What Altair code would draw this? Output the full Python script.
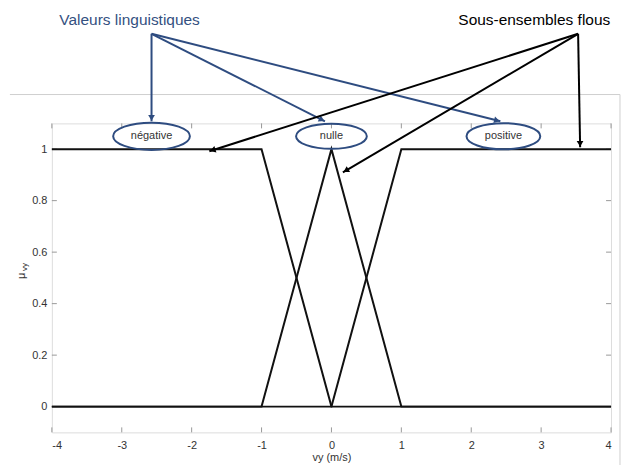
import math
import altair as alt
import pandas as pd

# ---- data ----
x_bp = [-4, -1, 0, 1, 4]
mu_neg = [1, 1, 0, 0, 0]
mu_nul = [0, 0, 1, 0, 0]
mu_pos = [0, 0, 0, 1, 1]
set_names = ["négative", "nulle", "positive"]
x_ticks = [-4, -3, -2, -1, 0, 1, 2, 3, 4]
y_ticks = [0, 0.2, 0.4, 0.6, 0.8, 1]

# ellipse labels (linguistic values)
ell_x = [-2.574, 0.0, 2.46]
ell_y = [1.05, 1.05, 1.05]
ell_w = [77, 71, 74]

# annotation groups
blue_label = "Valeurs linguistiques"
blue_label_pos = (-2.888, 1.483)
blue_src = (-2.574, 1.448)
blue_tx = [-2.574, -0.093, 2.417]
blue_ty = [1.108, 1.108, 1.108]

black_label = "Sous-ensembles flous"
black_label_pos = (2.902, 1.483)
black_src = (3.529, 1.448)
black_tx = [-1.747, 0.164, 3.558]
black_ty = [0.992, 0.910, 1.007]

W, H = 561, 310
XD = [-4, 4]
YD = [-0.1, 1.1]
PX = W / (XD[1] - XD[0])
PY = H / (YD[1] - YD[0])

BLUE = "#2E4C80"
BLUE_TXT = "#34507F"
FONT = "Liberation Sans"

xs = alt.Scale(domain=XD, nice=False, zero=False)
ys = alt.Scale(domain=YD, nice=False, zero=False)

rows = []
for name, mu in zip(set_names, [mu_neg, mu_nul, mu_pos]):
    for xv, mv in zip(x_bp, mu):
        rows.append({"set": name, "x": xv, "mu": mv})
df = pd.DataFrame(rows)

# tick marks (inside)
tick_rows = []
for t in x_ticks:
    tick_rows.append({"x": t, "y": YD[0], "x2": t, "y2": YD[0] + 5 / PY})
    tick_rows.append({"x": t, "y": YD[1], "x2": t, "y2": YD[1] - 5 / PY})
for t in y_ticks:
    tick_rows.append({"x": XD[0], "y": t, "x2": XD[0] + 5 / PX, "y2": t})
    tick_rows.append({"x": XD[1], "y": t, "x2": XD[1] - 5 / PX, "y2": t})
ticks_df = pd.DataFrame(tick_rows)

frame_df = pd.DataFrame([
    {"x": -4.6, "y": 1.212, "x2": 4.128, "y2": 1.212},
    {"x": 4.128, "y": 1.212, "x2": 4.128, "y2": -0.26},
])


def arrows(src, txs, tys):
    segs, heads = [], []
    for tx, ty in zip(txs, tys):
        segs.append({"x": src[0], "y": src[1], "x2": tx, "y2": ty})
        dx = (tx - src[0]) * PX
        dy = -(ty - src[1]) * PY
        L = math.hypot(dx, dy)
        ang = math.degrees(math.atan2(dx, -dy)) % 360
        hx = tx - 3.5 * dx / L / PX
        hy = ty + 3.5 * dy / L / PY
        heads.append({"x": hx, "y": hy, "angle": ang})
    return pd.DataFrame(segs), pd.DataFrame(heads)


bseg, bhead = arrows(blue_src, blue_tx, blue_ty)
kseg, khead = arrows(black_src, black_tx, black_ty)

base_x = alt.X("x:Q", scale=xs, axis=alt.Axis(
    values=x_ticks, title="vy (m/s)", labelExpr="'' + datum.value",
    grid=False, domain=False, ticks=False, tickSize=0, labelPadding=7,
    labelFontSize=11, labelColor="#333", labelFont=FONT, titleFont=FONT,
    titleFontSize=11, titleColor="#333", titleFontWeight="normal", titlePadding=1))
base_y = alt.Y("mu:Q", scale=ys, axis=alt.Axis(
    values=y_ticks, title=None, format="~g",
    grid=False, domain=False, ticks=False, tickSize=0, labelPadding=5,
    labelFontSize=11, labelColor="#333", labelFont=FONT))

lines = alt.Chart(df).mark_line(color="#111", strokeWidth=2).encode(
    x=base_x, y=base_y, detail="set:N")

tick_layer = alt.Chart(ticks_df).mark_rule(color="#999", strokeWidth=1).encode(
    x=alt.X("x:Q", scale=xs), y=alt.Y("y:Q", scale=ys), x2="x2:Q", y2="y2:Q")

frame = alt.Chart(frame_df).mark_rule(color="#cfcfcf", strokeWidth=1).encode(
    x=alt.X("x:Q", scale=xs), y=alt.Y("y:Q", scale=ys), x2="x2:Q", y2="y2:Q")

ell_df = pd.DataFrame({"x": ell_x, "y": ell_y, "size": [w * w for w in ell_w],
                       "label": set_names})
ell_path = "M -1 0 A 1 0.355 0 1 1 1 0 A 1 0.355 0 1 1 -1 0 Z"
ellipses = alt.Chart(ell_df).mark_point(
    shape=ell_path, filled=False, color=BLUE, strokeWidth=2, opacity=1).encode(
    x=alt.X("x:Q", scale=xs), y=alt.Y("y:Q", scale=ys),
    size=alt.Size("size:Q", scale=None, legend=None))
ell_text = alt.Chart(ell_df).mark_text(
    font=FONT, fontSize=11, color="#333", baseline="middle", align="center").encode(
    x=alt.X("x:Q", scale=xs), y=alt.Y("y:Q", scale=ys), text="label:N")


def arrow_layers(seg, head, color, width):
    s = alt.Chart(seg).mark_rule(color=color, strokeWidth=width).encode(
        x=alt.X("x:Q", scale=xs), y=alt.Y("y:Q", scale=ys), x2="x2:Q", y2="y2:Q")
    h = alt.Chart(head).mark_point(
        shape="triangle-up", filled=True, color=color, size=45, opacity=1).encode(
        x=alt.X("x:Q", scale=xs), y=alt.Y("y:Q", scale=ys),
        angle=alt.Angle("angle:Q", scale=None))
    return s + h


blue_arrows = arrow_layers(bseg, bhead, BLUE, 2)
black_arrows = arrow_layers(kseg, khead, "#000", 2)

labels_df = pd.DataFrame([
    {"x": blue_label_pos[0], "y": blue_label_pos[1], "t": blue_label, "c": BLUE_TXT},
    {"x": black_label_pos[0], "y": black_label_pos[1], "t": black_label, "c": "#000"},
])
big_text = alt.Chart(labels_df).mark_text(
    font=FONT, fontSize=15.5, baseline="alphabetic", align="center").encode(
    x=alt.X("x:Q", scale=xs), y=alt.Y("y:Q", scale=ys), text="t:N",
    color=alt.Color("c:N", scale=None))

mu_lab = alt.Chart(pd.DataFrame({"t": ["μ"]})).mark_text(
    font=FONT, fontSize=11, color="#333", angle=270, baseline="middle", align="center").encode(
    x=alt.value(-30), y=alt.value(153), text="t:N")
vy_lab = alt.Chart(pd.DataFrame({"t": ["vy"]})).mark_text(
    font=FONT, fontSize=8, color="#333", angle=270, baseline="middle", align="center").encode(
    x=alt.value(-27), y=alt.value(144), text="t:N")

chart = alt.layer(
    frame, tick_layer, lines, ellipses, ell_text,
    blue_arrows, black_arrows, big_text, mu_lab, vy_lab
).properties(
    width=W, height=H,
    autosize=alt.AutoSizeParams(type="none"),
    padding={"left": 44, "top": 115, "right": 10, "bottom": 40},
).configure_view(stroke="#b8b8b8", strokeWidth=1).configure(background="white")

chart.save("out.html", embed_options={"renderer": "svg", "actions": False})
